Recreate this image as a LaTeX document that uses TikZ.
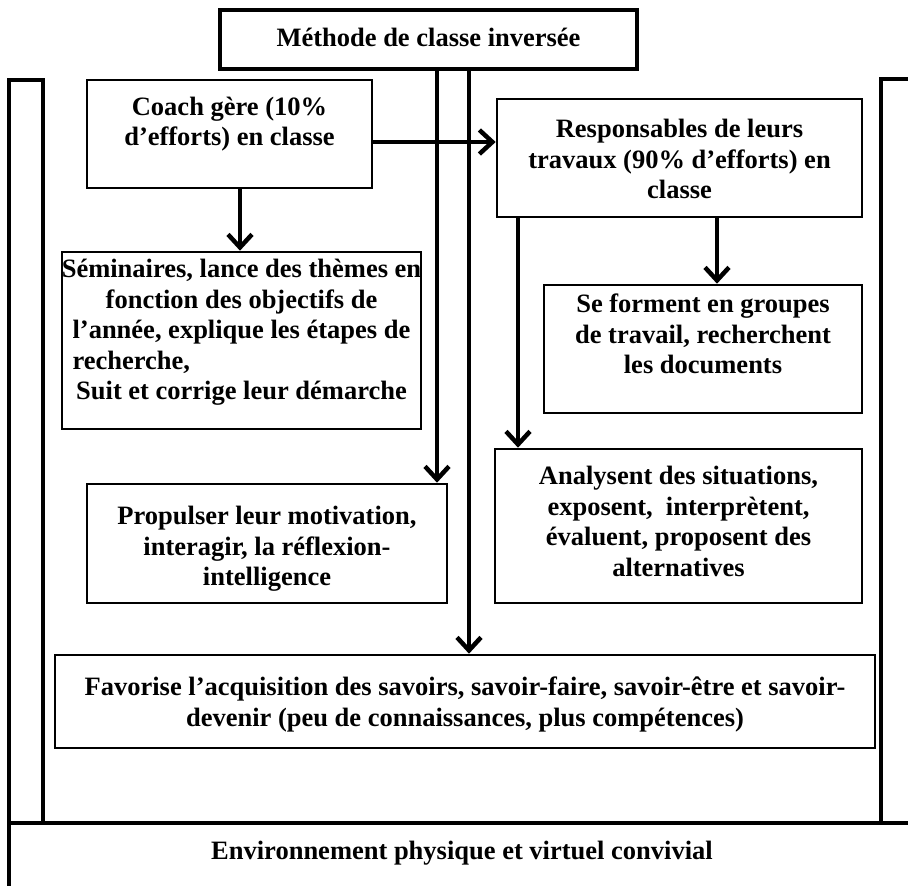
\documentclass[tikz,border=0pt]{standalone}
\usepackage{fontspec}
\setmainfont{Liberation Serif}
\usetikzlibrary{arrows.meta,fit}
\begin{document}
\begin{tikzpicture}[x=1pt,y=-1pt,
  box/.style={draw, line width=2.6pt, rectangle, inner sep=0pt},
  framebox/.style={draw, line width=3.3pt, rectangle, inner sep=0pt},
  txt/.style={align=center, inner sep=0pt,
    font=\fontsize{26.5}{30.5}\selectfont\bfseries},
  arr/.style={line width=4.5pt, -{Straight Barb[length=13pt,width=24pt]}},
]
\useasboundingbox (0,0) rectangle (908,886);

% outer frame: two side columns and the base
\node[framebox, fit={(9,80) (43,823)}] (lcol) {};
\node[framebox, fit={(881,79) (940,823)}] (rcol) {};
\node[framebox, fit={(9,823) (940,910)}] (base) {};
\node[txt, anchor=base] at (462,859) {Environnement physique et virtuel convivial};

% boxes
\node[box, line width=3.2pt, fit={(220,10) (637,69)}] (top) {};
\node[txt, anchor=base] at (428.5,46) {Méthode de classe inversée};

\node[box, fit={(87,80) (372,188)}] (coach) {};
\node[txt, anchor=north] at (229.5,96.5) {Coach gère (10\%\\d’efforts) en classe};

\node[box, fit={(497,99) (862,217)}] (resp) {};
\node[txt, anchor=north] at (679.5,119) {Responsables de leurs\\travaux (90\% d’efforts) en\\classe};

\node[box, fit={(62,252) (421,429)}] (semi) {};
\node[txt, anchor=north] at (241.5,259) {Séminaires, lance des thèmes en\\fonction des objectifs de\\l’année, explique les étapes de\\\makebox[338pt][l]{recherche,}\\Suit et corrige leur démarche};

\node[box, fit={(544,285) (862,413)}] (sef) {};
\node[txt, anchor=north] at (703,294) {Se forment en groupes\\de travail, recherchent\\les documents};

\node[box, fit={(495,449) (862,603)}] (ana) {};
\node[txt, anchor=north] at (678.5,466) {Analysent des situations,\\exposent,~ interprètent,\\évaluent, proposent des\\alternatives};

\node[box, fit={(87,484) (447,603)}] (prop) {};
\node[txt, anchor=north] at (267,506) {Propulser leur motivation,\\interagir, la réflexion-\\intelligence};

\node[box, fit={(55,655) (875,748)}] (fav) {};
\node[txt, anchor=north] at (465,677) {Favorise l’acquisition des savoirs, savoir-faire, savoir-être et savoir-\\devenir (peu de connaissances, plus compétences)};

% guide coordinates for the connector lines
\coordinate (vA) at (437,0);
\coordinate (vB) at (469,0);
\coordinate (vC) at (240,0);
\coordinate (vD) at (717,0);
\coordinate (vE) at (518,0);
\coordinate (hA) at (0,142);

% connectors
\draw[arr] (top.south -| vA) -- (prop.north -| vA);
\draw[arr] (top.south -| vB) -- (fav.north -| vB);
\draw[arr] (coach.east |- hA) -- (resp.west |- hA);
\draw[arr] (coach.south -| vC) -- (semi.north -| vC);
\draw[arr] (resp.south -| vD) -- (sef.north -| vD);
\draw[arr] (resp.south -| vE) -- (ana.north -| vE);
\end{tikzpicture}
\end{document}
